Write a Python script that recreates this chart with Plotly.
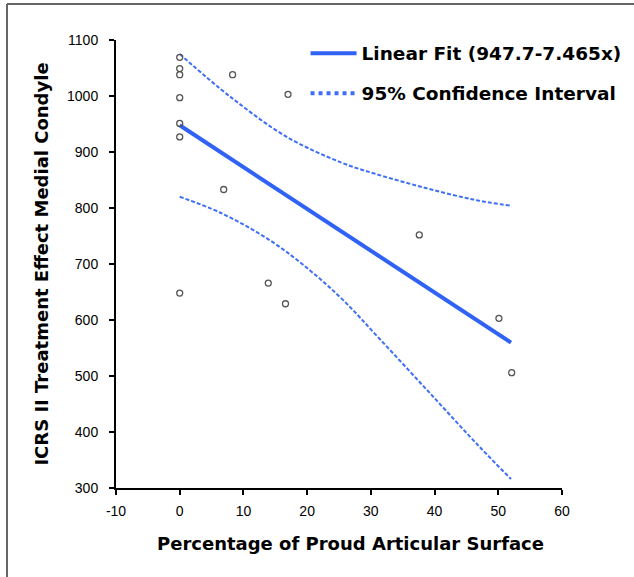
import plotly.graph_objects as go

# Data
pts_x = [0, 0, 0, 0, 0, 0, 0, 8.3, 6.9, 17.0, 13.9, 16.6, 37.6, 50.1, 52.1]
pts_y = [1069, 1049, 1038, 997, 951, 927, 648, 1038, 833, 1003, 666, 629, 752, 603, 506]

fit_x = [0, 52]
fit_y = [947.7, 559.5]

upper_x = [0, 7.9, 16.8, 25.4, 30.4, 38.2, 46.1, 52]
upper_y = [1075, 999, 927, 881, 862, 837, 815, 804]

lower_x = [0, 6.3, 14.2, 20.5, 25.7, 31.4, 39.3, 47.1, 52]
lower_y = [820, 792, 742, 688, 635, 566, 469, 373, 316]

x_ticks = [-10, 0, 10, 20, 30, 40, 50, 60]
x_ticktext = ["-10", "0", "10", "20", "30", "40", "50", "60"]
y_ticks = [300, 400, 500, 600, 700, 800, 900, 1000, 1100]

x_title = "Percentage of Proud Articular Surface"
y_title = "ICRS II Treatment Effect Medial Condyle"

BLUE = "#2f62f5"
CI_BLUE = "#3f6ff5"

fig = go.Figure()
fig.add_trace(go.Scatter(x=upper_x, y=upper_y, mode="lines", line=dict(color=CI_BLUE, width=2, dash="4px,2px", shape="spline", smoothing=1),
                         showlegend=False, hoverinfo="skip"))
fig.add_trace(go.Scatter(x=lower_x, y=lower_y, mode="lines", line=dict(color=CI_BLUE, width=2, dash="4px,2px", shape="spline", smoothing=1),
                         showlegend=False, hoverinfo="skip"))
fig.add_trace(go.Scatter(x=fit_x, y=fit_y, mode="lines", line=dict(color=BLUE, width=4),
                         name="Linear Fit (947.7-7.465x)", legendgroup="a"))
fig.add_trace(go.Scatter(x=[None], y=[None], mode="lines", line=dict(color=CI_BLUE, width=4, dash="4px,4px"),
                         name="95% Confidence Interval", legendgroup="b"))
fig.add_trace(go.Scatter(x=pts_x, y=pts_y, mode="markers",
                         marker=dict(symbol="circle-open", size=6, color="#555555", line=dict(width=1.3, color="#555555")),
                         showlegend=False))

fig.update_layout(
    width=634, height=577,
    margin=dict(l=116, r=72, t=40, b=89, autoexpand=False),
    paper_bgcolor="white", plot_bgcolor="white",
    font=dict(family="Liberation Sans, Arial", size=14, color="black"),
    legend=dict(x=0.425, y=1.012, xanchor="left", yanchor="top", bgcolor="rgba(0,0,0,0)",
                font=dict(family="DejaVu Sans", size=18.5, color="black", weight="bold"),
                itemwidth=46, tracegroupgap=13, traceorder="grouped"),
    xaxis=dict(range=[-10, 60], tickvals=x_ticks, ticktext=x_ticktext, showgrid=False, zeroline=False,
               showline=True, linecolor="black", linewidth=2, ticks="outside", ticklen=5, tickwidth=2, tickcolor="black",
               tickfont=dict(size=14), ticklabelstandoff=4),
    yaxis=dict(range=[300, 1100], tickvals=y_ticks, showgrid=False, zeroline=False,
               showline=True, linecolor="black", linewidth=2, ticks="outside", ticklen=5, tickwidth=2, tickcolor="black",
               tickfont=dict(size=14), ticklabelstandoff=8,
               title=dict(text="<b>" + y_title + "</b>",
                          font=dict(family="DejaVu Sans", size=18, color="black"), standoff=14)),
    annotations=[
        dict(text="<b>" + x_title + "</b>", xref="paper", yref="paper", x=0.5247, y=-0.1228,
             xanchor="center", yanchor="middle", showarrow=False,
             font=dict(family="DejaVu Sans", size=18, color="black")),
    ],
    shapes=[
        dict(type="line", xref="paper", yref="paper", x0=-0.2444, x1=1.17, y0=1.0804, y1=1.0804,
             line=dict(color="#666666", width=2)),
        dict(type="line", xref="paper", yref="paper", x0=-0.2444, x1=-0.2444, y0=1.0804, y1=-0.21,
             line=dict(color="#666666", width=2)),
    ],
)

fig.write_html("out.html")
